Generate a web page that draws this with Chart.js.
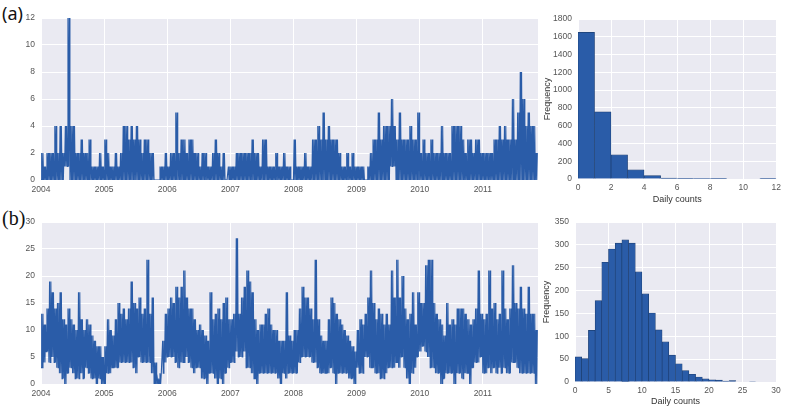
<!DOCTYPE html>
<html><head><meta charset="utf-8">
<script src="https://cdn.jsdelivr.net/npm/chart.js@4.4.1/dist/chart.umd.min.js"></script>
<style>
body{margin:0;background:#fff;width:785px;height:409px;overflow:hidden;position:relative}
.box{position:absolute}
.lab{position:absolute;font-size:18px;line-height:18px;color:#111}
</style></head><body>
<div class="lab" style="left:2px;top:4px;font-family:'Noto Sans'">(a)</div>
<div class="lab" style="left:2px;top:209px;font-family:'Liberation Serif';font-size:20px">(b)</div>
<canvas id="c1" class="box" style="left:0;top:0" width="545" height="205"></canvas>
<canvas id="c2" class="box" style="left:540px;top:0" width="245" height="205"></canvas>
<canvas id="c3" class="box" style="left:0;top:205px" width="545" height="204"></canvas>
<canvas id="c4" class="box" style="left:540px;top:205px" width="245" height="204"></canvas>
<script>
// ---- data (half-month buckets from Jan 2004; low / high daily count seen in each bucket) ----
const startYear = 2004;
const bucketsPerYear = 24;
const yearTicks = [2004,2005,2006,2007,2008,2009,2010,2011];

const aHigh = [
2,1,2,2,2,4,2,4,2,4,12,4,4,2,2,3,2,2,3,1,1,1,2,1,
3,2,1,1,2,1,2,4,4,3,4,3,4,3,2,3,3,2,2,0,0,1,1,2,
1,2,2,5,2,3,3,2,3,3,2,2,1,2,2,1,1,2,3,2,1,2,0,1,
1,1,2,2,2,2,2,2,3,2,2,1,3,3,1,1,1,2,1,1,2,1,1,0,
3,1,1,1,2,1,1,3,3,4,3,5,3,4,3,3,3,2,1,1,2,1,2,1,
1,1,1,0,1,2,3,3,5,3,4,4,4,6,4,3,5,3,3,3,4,3,3,5,
2,3,2,2,3,2,2,2,4,2,2,2,4,4,4,4,3,2,3,3,2,3,3,2,
2,2,2,2,3,3,4,3,4,3,3,6,3,5,8,6,4,5,4,4,2];
const aLow = [
0,0,0,0,0,0,0,0,0,1,1,0,0,0,0,0,0,0,0,0,0,0,0,0,
0,0,0,0,0,0,0,0,0,0,0,0,0,0,0,0,0,0,0,0,0,0,0,0,
0,0,0,0,0,0,0,0,0,0,0,0,0,0,0,0,0,0,0,0,0,0,0,0,
0,0,0,0,0,0,0,0,0,0,0,0,0,0,0,0,0,0,0,0,0,0,0,0,
0,0,0,0,0,0,0,0,0,0,0,0,0,0,0,0,0,0,0,0,0,0,0,0,
0,0,0,0,0,0,0,0,0,0,0,0,0,1,1,0,0,0,0,0,0,0,0,0,
0,0,0,0,0,0,0,0,0,0,0,0,0,0,0,0,0,0,0,0,0,0,0,0,
0,0,0,0,0,0,0,0,0,0,0,0,0,0,0,0,0,0,0,0,0];

const bHigh = [
13,11,14,19,17,14,15,17,12,11,14,12,11,10,17,12,10,12,11,9,8,7,7,5,
7,12,10,9,12,15,13,14,12,14,19,15,14,16,13,14,23,13,16,4,1,2,8,13,
14,16,15,18,16,18,21,16,14,14,12,10,11,10,9,8,17,12,13,14,12,15,16,12,
12,13,27,13,16,18,21,19,17,12,10,11,11,13,14,11,10,10,8,8,8,17,9,8,
10,10,14,18,16,16,14,12,23,12,9,8,8,12,16,15,13,12,11,10,9,8,7,6,
10,12,11,13,16,21,15,12,14,13,11,13,11,21,16,23,16,20,14,12,13,17,11,17,
15,15,22,23,23,15,13,12,11,9,15,11,12,11,14,14,14,13,12,11,12,14,21,13,
12,13,21,14,15,12,13,21,14,12,14,22,15,14,18,14,13,18,13,13,10];
const bLow = [
3,4,6,4,5,4,3,2,1,0,2,3,2,1,1,2,1,3,2,1,1,0,1,0,
0,2,2,3,3,3,4,4,4,4,4,3,2,5,4,4,4,4,2,0,0,0,2,4,
5,5,5,4,3,4,4,5,4,3,2,3,3,1,1,0,2,2,1,0,1,0,2,3,
4,4,6,5,5,6,3,3,2,1,0,2,2,2,2,2,2,2,1,0,2,1,2,2,
2,2,4,5,5,5,5,4,4,3,2,2,2,2,3,2,0,2,2,2,2,1,1,0,
3,2,2,5,5,3,3,2,2,1,1,2,3,3,3,4,3,5,3,1,0,2,3,5,
6,7,6,5,3,3,2,2,0,1,2,2,2,0,2,2,1,2,2,0,3,4,4,5,
2,2,3,2,3,2,3,2,3,2,2,4,4,3,2,2,2,2,2,2,0];

// histograms: frequency per unit-wide bin starting at 0
const histA = [1650,755,272,103,38,10,4,1,3,0,0,2];
const histB = [55,51,113,178,262,291,304,311,304,241,193,151,114,88,59,40,25,17,11,7,5,4,2,3,0,0,1,0,0,0];

// ---- styling ----
const BLUE = '#2a5ca8';
const EDGE = '#1d3f72';
const TICKFONT = {family:'Liberation Sans', size:8.5};
const TICKCOL = '#555';
const bg = {id:'bg', beforeDraw(c){const a=c.chartArea,x=c.ctx;x.save();x.fillStyle='#EAEAF2';x.fillRect(a.left,a.top,a.right-a.left,a.bottom-a.top);x.restore();}};

// the daily line swings between the low and high values of each bucket
function series(lo, hi){
  const pts=[];
  lo.forEach((l,i)=>{
    const x0 = startYear + i/bucketsPerYear, d = 0.25/bucketsPerYear;
    pts.push({x:x0, y:l}, {x:x0+d, y:hi[i]}, {x:x0+2*d, y:l}, {x:x0+3*d, y:hi[i]});
  });
  return pts;
}
function gridOpts(){return {color:'#ffffff', lineWidth:1, drawTicks:false};}
const plain = v => String(v);

function lineChart(id, lo, hi, ymax, ystep, pad){
  new Chart(document.getElementById(id), {
    type:'line',
    data:{datasets:[{data:series(lo,hi), borderColor:BLUE, borderWidth:1.1, pointRadius:0, tension:0, fill:false}]},
    options:{
      responsive:false, animation:false, events:[],
      layout:{padding:pad},
      plugins:{legend:{display:false}, tooltip:{enabled:false}},
      scales:{
        x:{type:'linear', min:startYear, max:startYear+189/bucketsPerYear,
           afterBuildTicks:s=>{s.ticks=yearTicks.map(v=>({value:v}));},
           ticks:{callback:plain, font:TICKFONT, color:TICKCOL, padding:5, maxRotation:0, autoSkip:false},
           grid:gridOpts(), border:{display:false}, afterFit:s=>{s.height=pad.h;}},
        y:{min:0, max:ymax, ticks:{stepSize:ystep, callback:plain, font:TICKFONT, color:TICKCOL, padding:6},
           grid:gridOpts(), border:{display:false}, afterFit:s=>{s.width=41;}}
      }
    },
    plugins:[bg]
  });
}

function histChart(id, bins, xmax, xstep, ymax, ystep, pad, yw, xh){
  new Chart(document.getElementById(id), {
    type:'bar',
    data:{datasets:[{data:bins.map((v,i)=>({x:i+0.5, y:v})), backgroundColor:BLUE, borderColor:EDGE, borderWidth:0.7,
      barPercentage:1, categoryPercentage:1, grouped:false}]},
    options:{
      responsive:false, animation:false, events:[],
      layout:{padding:pad},
      plugins:{legend:{display:false}, tooltip:{enabled:false}},
      scales:{
        x:{type:'linear', min:0, max:xmax, offset:false,
           ticks:{stepSize:xstep, callback:plain, font:TICKFONT, color:TICKCOL, padding:4, maxRotation:0},
           title:{display:true, text:'Daily counts', font:{family:'Liberation Sans', size:9}, color:'#333', padding:{top:0,bottom:0}},
           grid:{...gridOpts(), offset:false}, border:{display:false}, afterFit:s=>{s.height=xh;}},
        y:{min:0, max:ymax, ticks:{stepSize:ystep, callback:plain, font:TICKFONT, color:TICKCOL, padding:6},
           title:{display:true, text:'Frequency', font:{family:'Liberation Sans', size:9}, color:'#333', padding:{top:0,bottom:0}},
           grid:gridOpts(), border:{display:false}, afterFit:s=>{s.width=yw;}}
      }
    },
    plugins:[bg]
  });
}

lineChart('c1', aLow, aHigh, 12, 2, {left:0, right:7, top:18, bottom:0, h:25});
lineChart('c3', bLow, bHigh, 30, 5, {left:0, right:7, top:17, bottom:0, h:25});
histChart('c2', histA, 12, 2, 1800, 200, {left:2, right:7, top:19, bottom:0}, 36, 26);
histChart('c4', histB, 30, 5, 350, 50, {left:1, right:9, top:17, bottom:2}, 34, 25);
</script>
</body></html>
